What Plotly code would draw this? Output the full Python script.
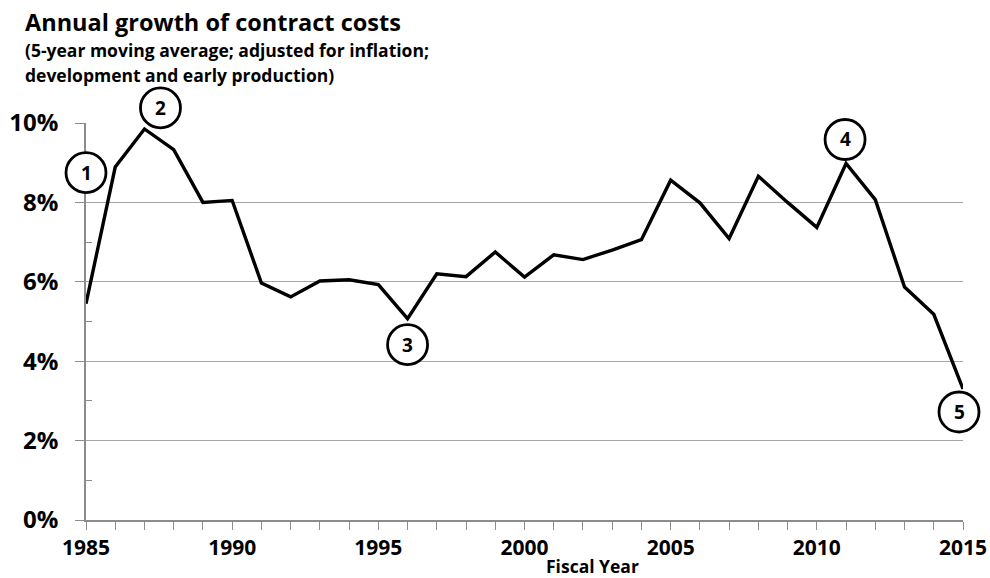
import plotly.graph_objects as go

years = list(range(1985, 2016))
growth = [5.45, 8.89, 9.85, 9.33, 8.00, 8.05, 5.97, 5.62, 6.02, 6.05,
          5.93, 5.07, 6.20, 6.13, 6.75, 6.12, 6.68, 6.56, 6.80, 7.06,
          8.56, 7.99, 7.09, 8.66, 8.00, 7.37, 8.98, 8.07, 5.87, 5.18, 3.30]

callout_labels = ["1", "2", "3", "4", "5"]
callout_years = [1985, 1987, 1996, 2011, 2015]
# pixel offsets of each circle centre from its data point (up = positive)
callout_dx = [0, 16, 0, -1, -4]
callout_dy = [131, 21, -26, 24, -23]

y_ticks = [0, 2, 4, 6, 8, 10]
y_tick_text = [f"{v}%" for v in y_ticks]
x_ticks = [1985, 1990, 1995, 2000, 2005, 2010, 2015]
X_MIN, X_MAX, Y_MAX = 1985, 2015, 0.10

FONT = "Open Sans"
L, R, T, B = 86, 27, 123, 58
W, H = 990, 578
PW, PH = W - L - R, H - T - B

fig = go.Figure()
fig.add_trace(go.Scatter(x=years, y=[g / 100 for g in growth], mode="lines",
                         line=dict(color="black", width=3.4), hoverinfo="x+y", cliponaxis=False))

shapes = []
annotations = []
for lab, yr, dx, dy in zip(callout_labels, callout_years, callout_dx, callout_dy):
    val = growth[years.index(yr)] / 100
    xp = (yr - X_MIN) / (X_MAX - X_MIN)
    yp = val / Y_MAX
    r = 20
    shapes.append(dict(type="circle", xref="paper", yref="paper", xsizemode="pixel", ysizemode="pixel",
                       xanchor=xp, yanchor=yp, x0=dx - r, x1=dx + r, y0=dy - r, y1=dy + r,
                       line=dict(color="black", width=2.8), fillcolor="white", layer="above"))
    annotations.append(dict(x=xp, y=yp, xref="paper", yref="paper", text=f"<b>{lab}</b>", showarrow=False,
                            xanchor="center", yanchor="middle",
                            xshift=dx, yshift=dy, font=dict(family=FONT, size=19, color="black")))

def px_x(p):
    return (p - L) / PW

def px_y(p):
    return (H - B - p) / PH

annotations.append(dict(xref="paper", yref="paper", x=px_x(23), y=px_y(22), xanchor="left", yanchor="middle",
                        text="<b>Annual growth of contract costs</b>", showarrow=False,
                        font=dict(family=FONT, size=23.5, color="black")))
annotations.append(dict(xref="paper", yref="paper", x=px_x(23), y=px_y(50), xanchor="left", yanchor="middle",
                        text="<b>(5-year moving average; adjusted for inflation;</b>", showarrow=False,
                        font=dict(family=FONT, size=17.5, color="black")))
annotations.append(dict(xref="paper", yref="paper", x=px_x(23), y=px_y(75), xanchor="left", yanchor="middle",
                        text="<b>development and early production)</b>", showarrow=False,
                        font=dict(family=FONT, size=17.5, color="black")))
annotations.append(dict(xref="paper", yref="paper", x=px_x(592), y=px_y(566), xanchor="center", yanchor="middle",
                        text="<b>Fiscal Year</b>", showarrow=False,
                        font=dict(family=FONT, size=17.5, color="black")))

fig.update_layout(
    width=W, height=H,
    margin=dict(l=L, r=R, t=T, b=B, pad=0, autoexpand=False),
    paper_bgcolor="white", plot_bgcolor="white",
    showlegend=False,
    shapes=shapes, annotations=annotations,
    font=dict(family=FONT, color="black"),
)
fig.update_xaxes(range=[X_MIN, X_MAX], tickvals=x_ticks, ticktext=[f"<b>{v}</b>" for v in x_ticks],
                 tickfont=dict(family=FONT, size=21, color="black"), automargin=False,
                 showgrid=False, zeroline=False, showline=True, linecolor="#8c8c8c", linewidth=1.5,
                 ticks="outside", ticklen=8, tickcolor="#8c8c8c", tickwidth=1.3, ticklabelstandoff=0,
                 minor=dict(dtick=1, tick0=1985, ticks="outside", ticklen=8, tickcolor="#8c8c8c", tickwidth=1.3))
fig.update_yaxes(range=[0, Y_MAX], tickvals=[v / 100 for v in y_ticks], ticktext=[f"<b>{t}</b>" for t in y_tick_text],
                 tickfont=dict(family=FONT, size=24, color="black"), automargin=False,
                 showgrid=True, gridcolor="#a6a6a6", gridwidth=1.3, zeroline=False,
                 showline=True, linecolor="#8c8c8c", linewidth=1.5,
                 ticks="outside", ticklen=9, tickcolor="#8c8c8c", tickwidth=1.3, ticklabelstandoff=12,
                 minor=dict(tickvals=[0.01, 0.03, 0.05, 0.07, 0.09], ticks="inside", ticklen=6,
                            tickcolor="#8c8c8c", tickwidth=1.3, showgrid=False))

fig.write_html("out.html", config={"displayModeBar": False},
               post_script="document.body.style.margin='0';")
